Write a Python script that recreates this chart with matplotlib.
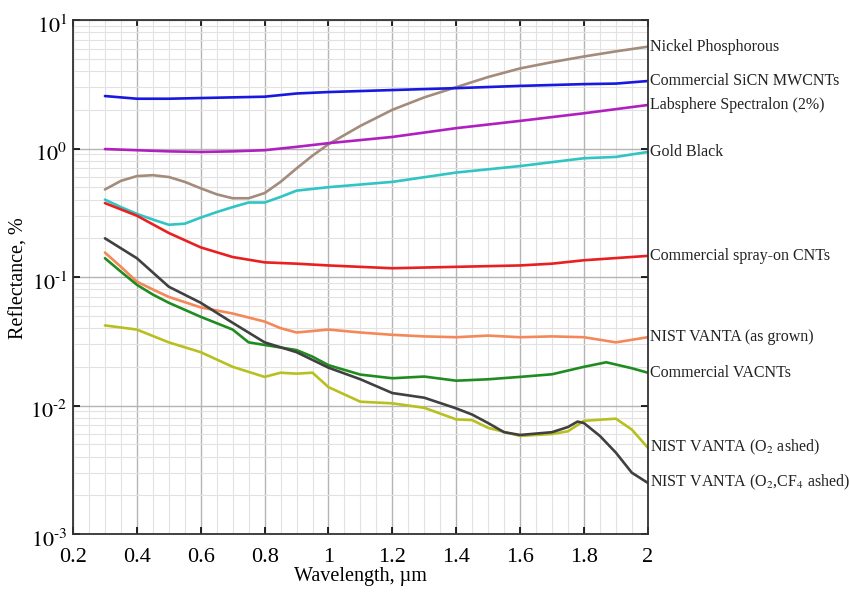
import numpy as np
import matplotlib
matplotlib.use("Agg")
import matplotlib.pyplot as plt
import matplotlib.transforms as mtransforms
from matplotlib.ticker import FixedLocator, MultipleLocator, LogLocator, NullFormatter

plt.rcParams['font.family'] = ['Liberation Serif', 'DejaVu Serif']
plt.rcParams['mathtext.fontset'] = 'stix'

# wavelength (um) / reflectance (%)
wl_nickel = [0.3, 0.35, 0.4, 0.45, 0.5, 0.55, 0.6, 0.65, 0.7, 0.75, 0.8, 0.85, 0.9, 0.95,
             1.0, 1.1, 1.2, 1.3, 1.4, 1.5, 1.6, 1.7, 1.8, 1.9, 2.0]
nickel = [0.48, 0.56, 0.61, 0.62, 0.60, 0.55, 0.49, 0.44, 0.41, 0.41, 0.45, 0.55, 0.70, 0.88,
          1.08, 1.5, 2.0, 2.5, 3.0, 3.6, 4.2, 4.7, 5.2, 5.7, 6.2]

wl_sicn = [0.3, 0.4, 0.5, 0.6, 0.7, 0.8, 0.9, 1.0, 1.2, 1.4, 1.6, 1.8, 1.9, 2.0]
sicn = [2.56, 2.44, 2.44, 2.47, 2.5, 2.53, 2.68, 2.75, 2.85, 2.95, 3.07, 3.17, 3.2, 3.35]

wl_spectralon = [0.3, 0.4, 0.5, 0.6, 0.7, 0.8, 0.9, 1.0, 1.2, 1.4, 1.6, 1.8, 2.0]
spectralon = [0.99, 0.97, 0.95, 0.94, 0.95, 0.97, 1.03, 1.1, 1.23, 1.44, 1.64, 1.88, 2.18]

wl_gold = [0.3, 0.35, 0.4, 0.45, 0.5, 0.55, 0.6, 0.65, 0.7, 0.75, 0.8, 0.85, 0.9,
           1.0, 1.2, 1.4, 1.6, 1.8, 1.9, 2.0]
gold = [0.40, 0.35, 0.31, 0.28, 0.255, 0.26, 0.29, 0.32, 0.35, 0.38, 0.38, 0.42, 0.47,
        0.50, 0.55, 0.65, 0.73, 0.84, 0.86, 0.94]

wl_spray = [0.3, 0.4, 0.5, 0.6, 0.7, 0.8, 0.9, 1.0, 1.2, 1.4, 1.6, 1.7, 1.8, 2.0]
spray = [0.376, 0.30, 0.22, 0.17, 0.143, 0.13, 0.127, 0.123, 0.117, 0.12, 0.123, 0.127, 0.135, 0.146]

wl_grown = [0.3, 0.35, 0.4, 0.45, 0.5, 0.6, 0.7, 0.8, 0.85, 0.9, 1.0, 1.1, 1.2, 1.3, 1.4,
            1.5, 1.6, 1.7, 1.8, 1.9, 2.0]
grown = [0.155, 0.12, 0.092, 0.08, 0.07, 0.058, 0.052, 0.045, 0.04, 0.037, 0.039, 0.037, 0.0355,
         0.0345, 0.034, 0.035, 0.034, 0.0345, 0.034, 0.031, 0.034]

wl_vacnt = [0.3, 0.35, 0.4, 0.45, 0.5, 0.6, 0.7, 0.75, 0.8, 0.9, 0.95, 1.0, 1.1, 1.2, 1.3,
            1.4, 1.5, 1.6, 1.7, 1.8, 1.87, 1.95, 2.0]
vacnt = [0.14, 0.11, 0.087, 0.073, 0.063, 0.049, 0.039, 0.031, 0.0296, 0.027, 0.024, 0.0206,
         0.0174, 0.0163, 0.0168, 0.0156, 0.016, 0.0167, 0.0175, 0.020, 0.0217, 0.0195, 0.018]

wl_o2 = [0.3, 0.4, 0.5, 0.6, 0.7, 0.8, 0.85, 0.9, 0.95, 1.0, 1.1, 1.2, 1.3, 1.4, 1.45, 1.5,
         1.6, 1.7, 1.75, 1.8, 1.9, 1.95, 2.0]
o2 = [0.042, 0.039, 0.031, 0.026, 0.020, 0.0167, 0.018, 0.0177, 0.018, 0.0139, 0.0107, 0.0104,
      0.0096, 0.0078, 0.0077, 0.0067, 0.0058, 0.006, 0.0063, 0.0076, 0.0079, 0.0065, 0.0047]

wl_o2cf4 = [0.3, 0.4, 0.5, 0.6, 0.7, 0.8, 0.9, 1.0, 1.1, 1.2, 1.3, 1.4, 1.45, 1.5, 1.55, 1.6,
            1.7, 1.75, 1.78, 1.8, 1.85, 1.9, 1.95, 2.0]
o2cf4 = [0.20, 0.14, 0.084, 0.063, 0.044, 0.031, 0.026, 0.0197, 0.016, 0.0125, 0.0115, 0.0095,
         0.0085, 0.0073, 0.0062, 0.0059, 0.0062, 0.0068, 0.0075, 0.0073, 0.0058, 0.0043, 0.003,
         0.0025]

series = [
    (wl_nickel, nickel, '#a48c7c', 'Nickel Phosphorous'),
    (wl_sicn, sicn, '#1818e0', 'Commercial SiCN MWCNTs'),
    (wl_spectralon, spectralon, '#b020c0', 'Labsphere Spectralon (2%)'),
    (wl_gold, gold, '#30c4c4', 'Gold Black'),
    (wl_spray, spray, '#e82020', 'Commercial spray-on CNTs'),
    (wl_grown, grown, '#f48858', 'NIST VANTA (as grown)'),
    (wl_vacnt, vacnt, '#208c20', 'Commercial VACNTs'),
    (wl_o2, o2, '#b8c020', r'NIST VANTA (O$_2$ ashed)'),
    (wl_o2cf4, o2cf4, '#404040', r'NIST VANTA (O$_2$,CF$_4$ ashed)'),
]

fig = plt.figure(figsize=(8.49, 5.97), dpi=100)
ax = fig.add_axes([0.086, 0.1055, 0.677, 0.861])

for x, y, c, name in series:
    ax.plot(x, y, color=c, lw=1.9, solid_capstyle='round')
    ax.text(2.008, y[-1], name, color='#222222', fontsize=11.5, va='center', ha='left',
            clip_on=False)

ax.set_yscale('log')
ax.set_xlim(0.2, 2.0)
ax.set_ylim(1e-3, 10)

xt = np.arange(0.2, 2.01, 0.2)
ax.set_xticks(xt)
ax.set_xticklabels(['%g' % v for v in xt])
ax.xaxis.set_minor_locator(MultipleLocator(0.05))
ax.yaxis.set_major_locator(FixedLocator([1e-3, 1e-2, 1e-1, 1, 10]))
ax.set_yticklabels([r'$10^{\text{-}3}$', r'$10^{\text{-}2}$', r'$10^{\text{-}1}$',
                    r'$10^{0}$', r'$10^{1}$'])
ax.yaxis.set_minor_locator(LogLocator(base=10, subs=np.arange(2, 10)))
ax.yaxis.set_minor_formatter(NullFormatter())

ax.grid(True, which='major', color='#b4b4b4', lw=1.0)
ax.grid(True, which='minor', color='#e2e2e2', lw=0.8)
ax.tick_params(which='both', direction='in', top=True, right=True, labelsize=16)
ax.tick_params(which='major', length=5, width=1.2)
ax.tick_params(which='minor', length=0)
ax.tick_params(axis='x', pad=10)
ax.tick_params(axis='y', pad=4)
shift = mtransforms.ScaledTranslation(0, -4 / 100, fig.dpi_scale_trans)
for lbl in ax.get_yticklabels():
    lbl.set_transform(lbl.get_transform() + shift)
for s in ax.spines.values():
    s.set_color('#333333')
    s.set_linewidth(1.3)

ax.set_xlabel('Wavelength, µm', fontsize=14.5, labelpad=0)
ax.set_ylabel('Reflectance, %', fontsize=14.5)
ax.yaxis.set_label_coords(-0.078, 0.498)

fig.savefig('out.png', dpi=100)
